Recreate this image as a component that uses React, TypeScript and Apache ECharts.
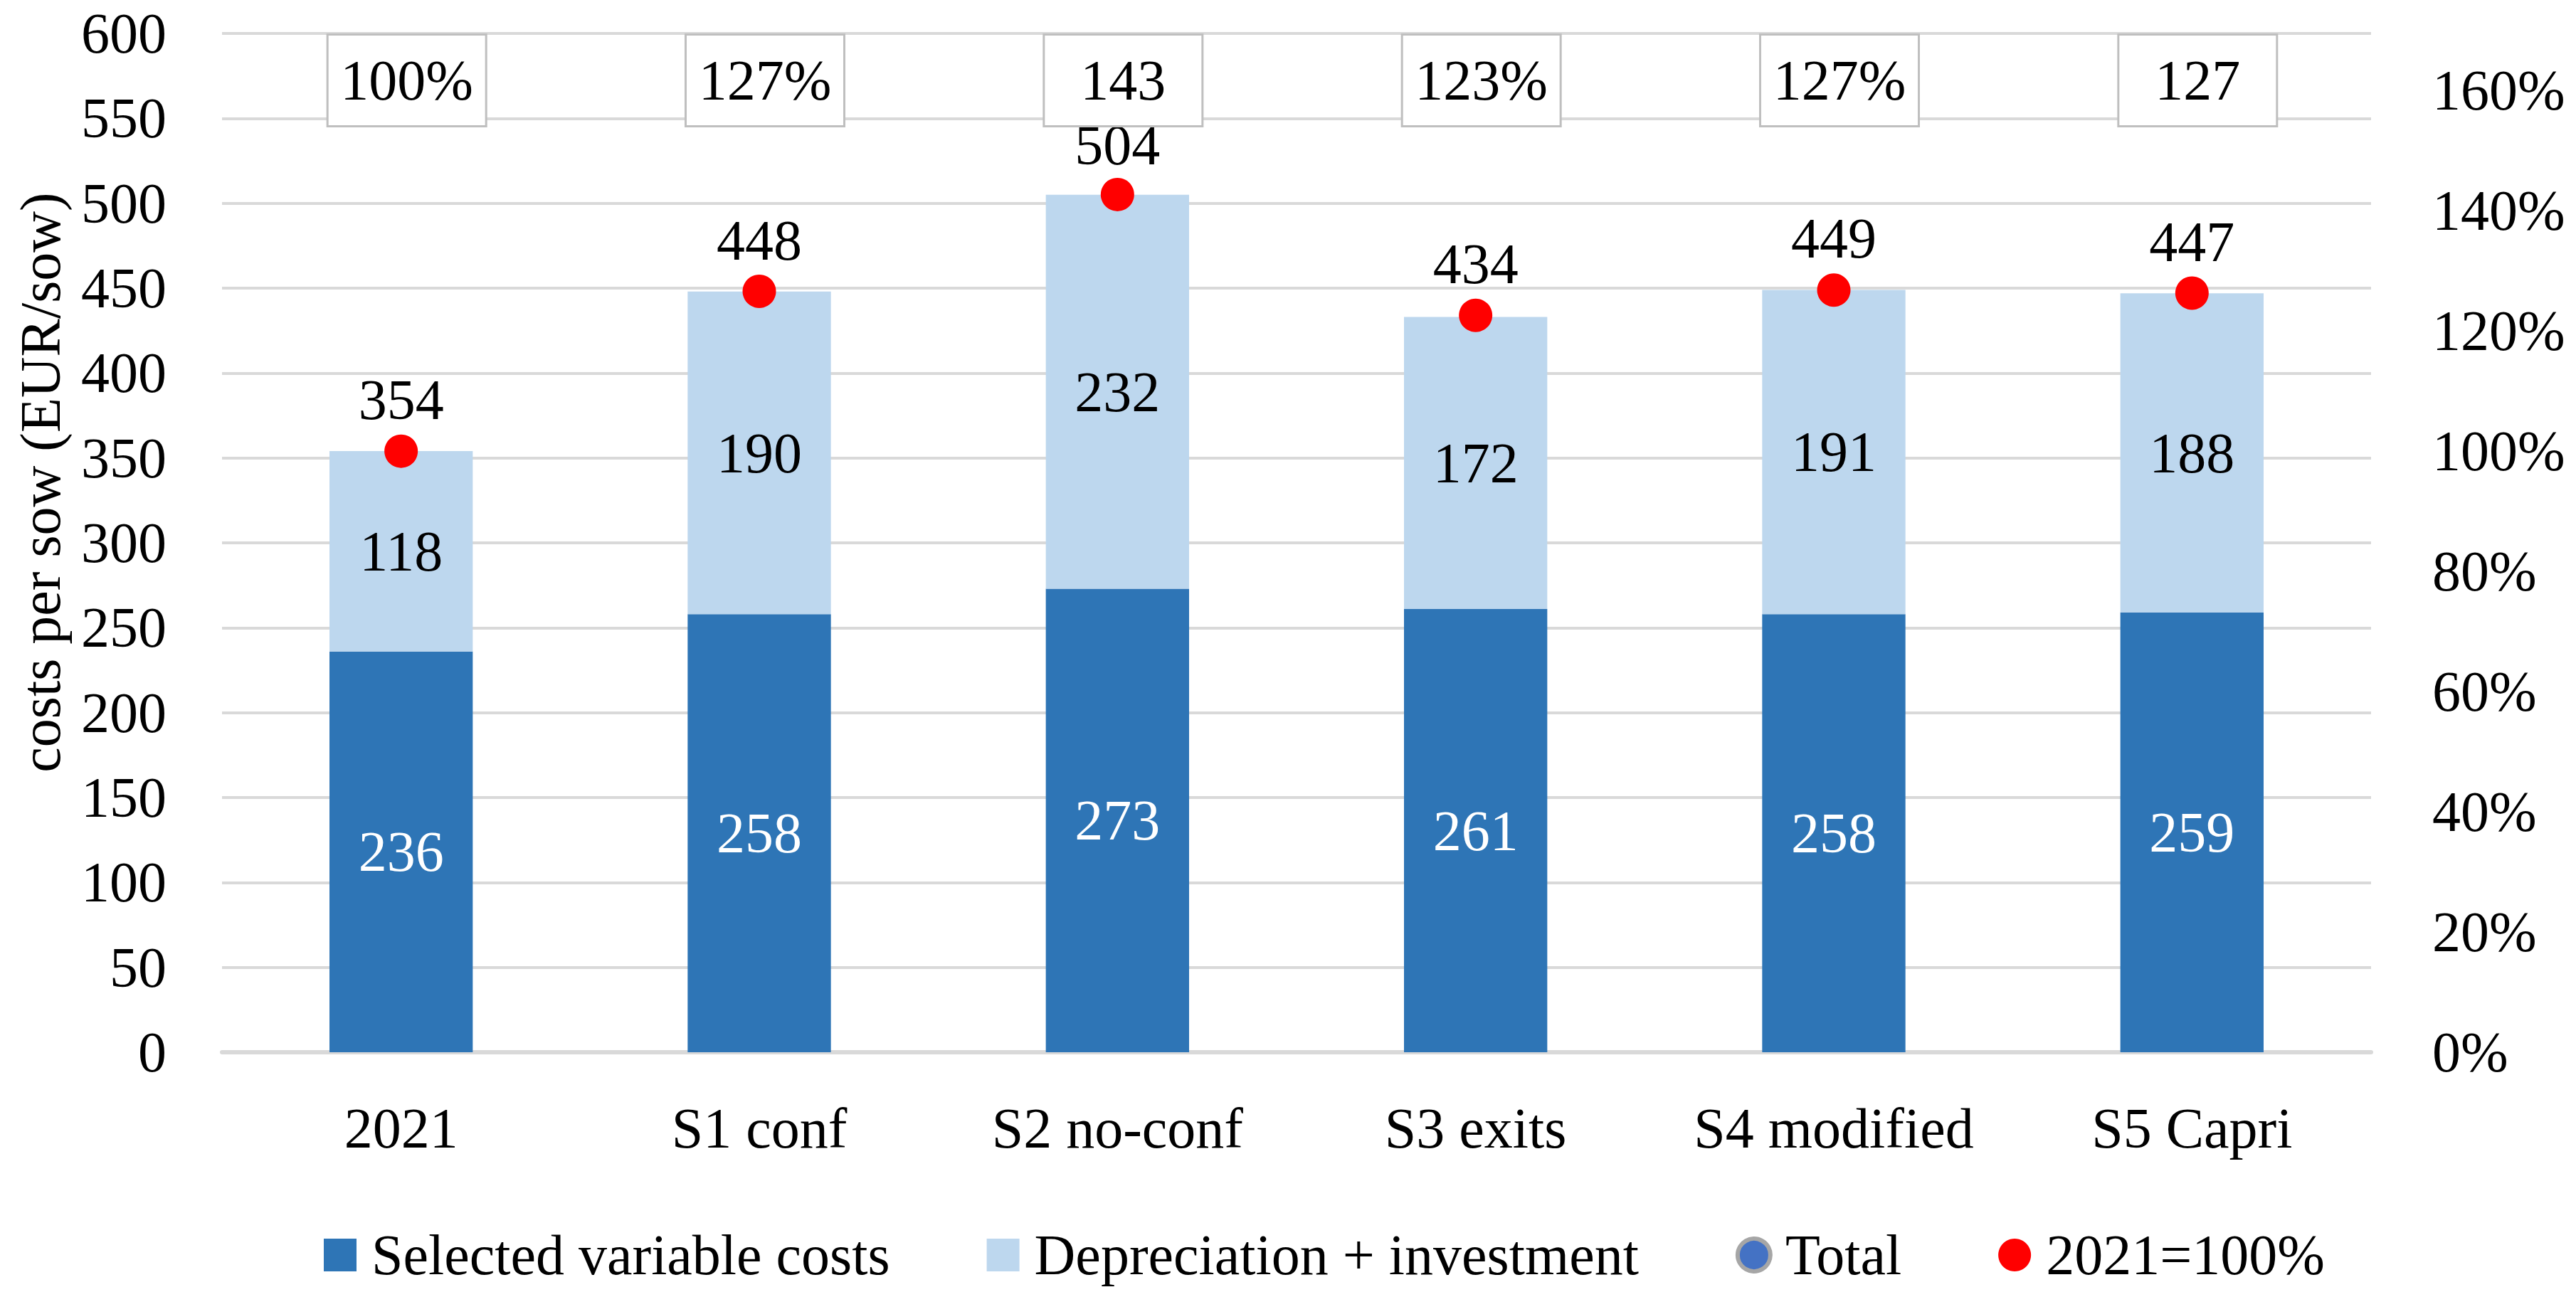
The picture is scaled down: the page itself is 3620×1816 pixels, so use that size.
import React, { useEffect, useRef } from "react";
import * as echarts from "echarts";

const categories = ["2021", "S1 conf", "S2 no-conf", "S3 exits", "S4 modified", "S5 Capri"];
const variableCosts = [236, 258, 273, 261, 258, 259];
const depreciationInvestment = [118, 190, 232, 172, 191, 188];
const totals = [354, 448, 504, 434, 449, 447];
const indexVs2021 = [100, 126.6, 142.7, 122.6, 126.8, 126.3];
const indexBoxLabels = ["100%", "127%", "143", "123%", "127%", "127"];
const legendNames = ["Selected variable costs", "Depreciation + investment", "Total", "2021=100%"];
const axisTitle = "costs per sow (EUR/sow)";

const FONT = "'Liberation Serif', 'Times New Roman', serif";
const FS = 80;

export default function App() {
  const ref = useRef<HTMLDivElement>(null);

  useEffect(() => {
    document.body.style.margin = "0";
    const chart = echarts.init(ref.current!, undefined, { renderer: "svg" });
    const textBase = { fontFamily: FONT, fontSize: FS, color: "#000", lineHeight: FS };
    const option: any = {
      animation: false,
      backgroundColor: "#fff",
      textStyle: { fontFamily: FONT },
      grid: { left: 312, right: 288, top: 47, bottom: 337 },
      legend: {
        left: 450,
        top: 1719,
        itemWidth: 46,
        itemHeight: 46,
        itemGap: 136,
        textStyle: { ...textBase, padding: [0, 0, 0, 16] },
        data: [
          { name: legendNames[0], icon: "rect" },
          { name: legendNames[1], icon: "rect" },
          {
            name: legendNames[2],
            icon: "circle",
            itemStyle: { color: "#4472C4", borderColor: "#A6A6A6", borderWidth: 6, opacity: 1 },
          },
          { name: legendNames[3], icon: "circle", itemStyle: { color: "#FF0000", opacity: 1 } },
        ],
      },
      xAxis: {
        type: "category",
        data: categories,
        axisTick: { show: false },
        axisLine: { show: true, lineStyle: { color: "#D9D9D9", width: 6 } },
        axisLabel: { ...textBase, margin: 67, interval: 0 },
      },
      yAxis: [
        {
          type: "value",
          min: 0,
          max: 600,
          interval: 50,
          name: axisTitle,
          nameLocation: "middle",
          nameGap: 215,
          nameRotate: 90,
          nameTextStyle: { ...textBase, padding: [0, 0, 0, 170] },
          axisLine: { show: false },
          axisTick: { show: false },
          axisLabel: { ...textBase, margin: 78 },
          splitLine: { show: true, lineStyle: { color: "#D9D9D9", width: 4 } },
        },
        {
          type: "value",
          position: "right",
          min: 0,
          max: 169.5,
          interval: 20,
          axisLine: { show: false },
          axisTick: { show: false },
          splitLine: { show: false },
          axisLabel: {
            ...textBase,
            margin: 86,
            showMaxLabel: false,
            formatter: (v: number) => (Math.abs(v % 20) < 1e-6 ? `${Math.round(v)}%` : ""),
          },
        },
      ],
      series: [
        {
          name: legendNames[0],
          type: "bar",
          stack: "costs",
          barWidth: "40%",
          data: variableCosts,
          itemStyle: { color: "#2E75B6" },
          label: { show: true, position: "inside", ...textBase, color: "#fff" },
          z: 2,
        },
        {
          name: legendNames[1],
          type: "bar",
          stack: "costs",
          barWidth: "40%",
          data: depreciationInvestment,
          itemStyle: { color: "#BDD7EE" },
          label: { show: true, position: "inside", ...textBase, color: "#000" },
          z: 2,
        },
        {
          name: legendNames[2],
          type: "scatter",
          data: totals,
          symbol: "circle",
          symbolSize: 0,
          itemStyle: { color: "#4472C4", opacity: 1 },
          label: { show: true, position: "top", distance: 32, ...textBase, color: "#000" },
          z: 4,
        },
        {
          name: legendNames[3],
          type: "scatter",
          yAxisIndex: 1,
          data: indexVs2021,
          symbol: "circle",
          symbolSize: 47,
          itemStyle: { color: "#FF0000", opacity: 1 },
          z: 5,
        },
        {
          name: "index boxes",
          type: "custom",
          yAxisIndex: 1,
          silent: true,
          clip: false,
          z: 6,
          data: indexVs2021.map((v, i) => [i, v]),
          renderItem: (params: any, api: any) => {
            const idx = api.value(0);
            const x = api.coord([idx, 0])[0];
            const cs = params.coordSys;
            return {
              type: "text",
              x: x + 8,
              y: cs.y + 3,
              style: {
                text: indexBoxLabels[params.dataIndex],
                fontFamily: FONT,
                fontSize: FS,
                lineHeight: FS,
                fill: "#000",
                align: "center",
                verticalAlign: "top",
                backgroundColor: "#fff",
                borderColor: "#BFBFBF",
                borderWidth: 3,
                padding: [23, 14],
                width: 192,
              },
            };
          },
        },
      ],
    };
    chart.setOption(option);
    return () => chart.dispose();
  }, []);

  return <div ref={ref} style={{ width: 3620, height: 1816 }} />;
}
